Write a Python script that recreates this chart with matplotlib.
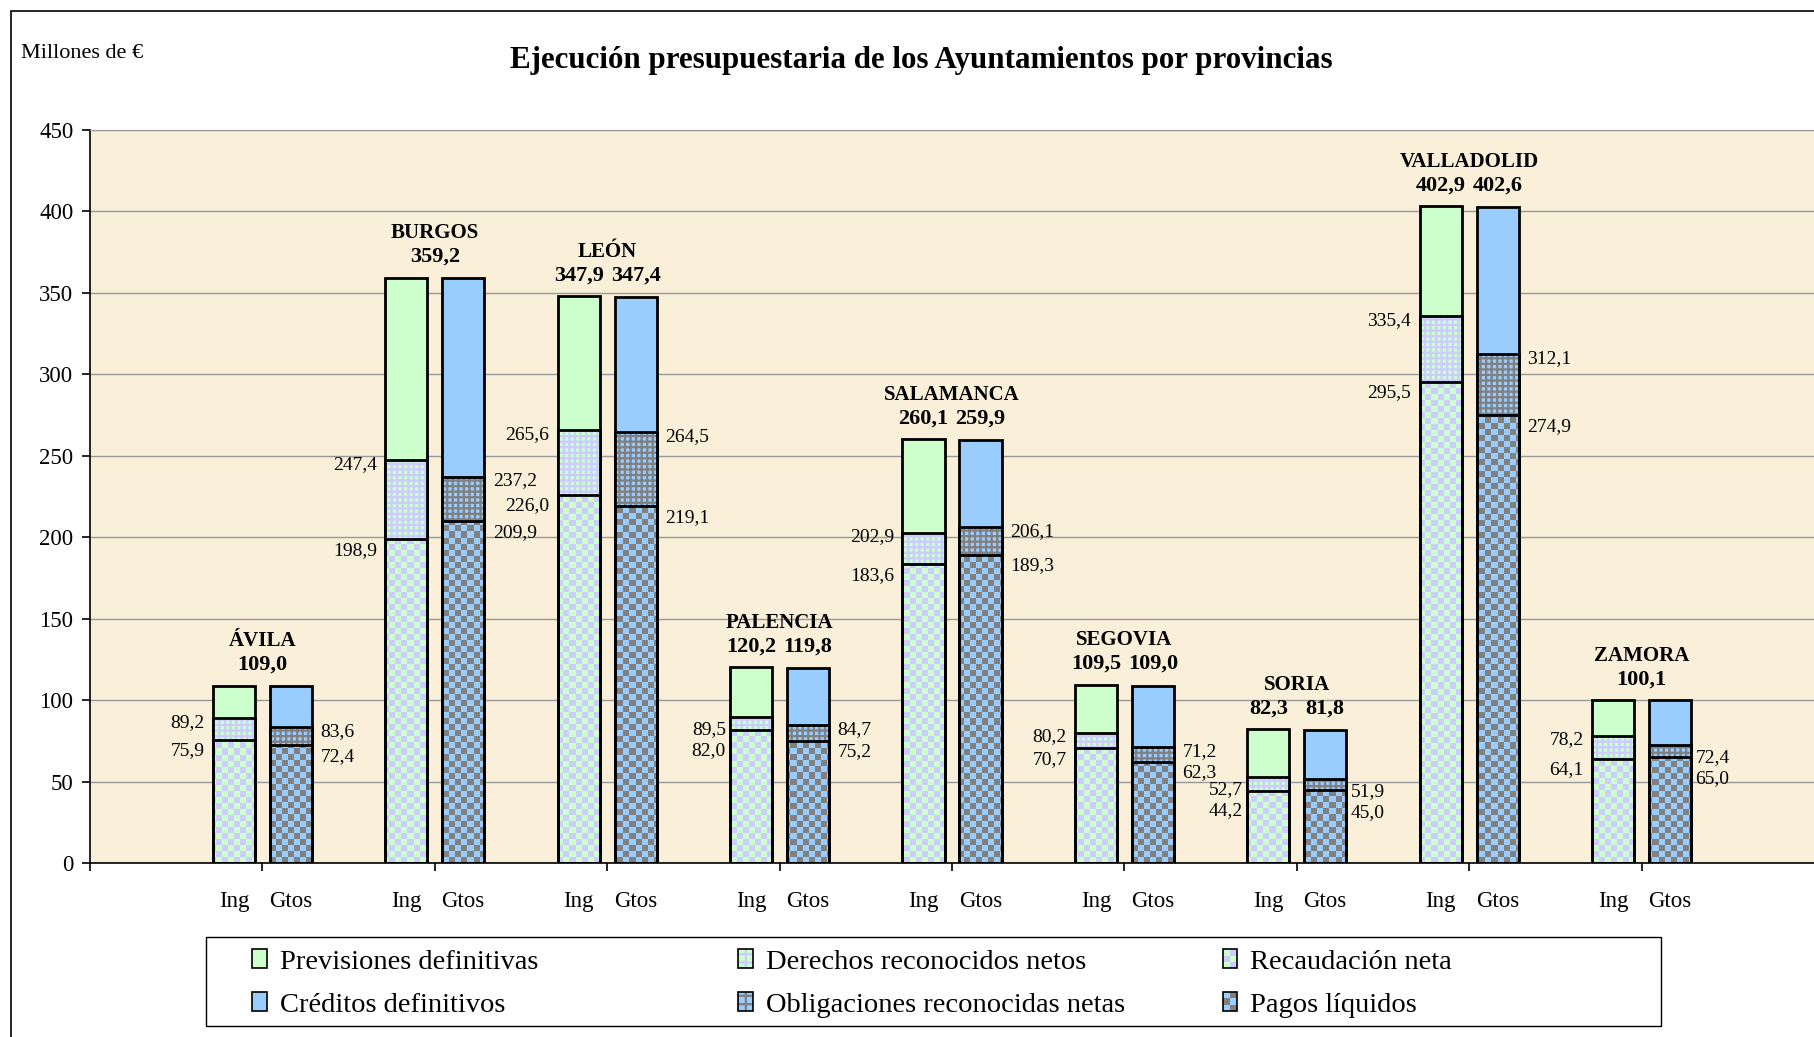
import numpy as np
import matplotlib.pyplot as plt
from matplotlib.patches import Patch, Rectangle
from matplotlib.colors import to_rgb
from matplotlib.legend_handler import HandlerBase

plt.rcParams['font.family'] = ['Liberation Serif', 'DejaVu Serif']
plt.rcParams['hatch.linewidth'] = 1.6

# datos (millones de euros)
provincias = ['ÁVILA', 'BURGOS', 'LEÓN', 'PALENCIA', 'SALAMANCA',
              'SEGOVIA', 'SORIA', 'VALLADOLID', 'ZAMORA']
previsiones = [109.0, 359.2, 347.9, 120.2, 260.1, 109.5, 82.3, 402.9, 100.1]
derechos = [89.2, 247.4, 265.6, 89.5, 202.9, 80.2, 52.7, 335.4, 78.2]
recaudacion = [75.9, 198.9, 226.0, 82.0, 183.6, 70.7, 44.2, 295.5, 64.1]
creditos = [109.0, 359.2, 347.4, 119.8, 259.9, 109.0, 81.8, 402.6, 100.1]
obligaciones = [83.6, 237.2, 264.5, 84.7, 206.1, 71.2, 51.9, 312.1, 72.4]
pagos = [72.4, 209.9, 219.1, 75.2, 189.3, 62.3, 45.0, 274.9, 65.0]

verde = '#CCFFCC'
lila = '#CCCCFF'
azul = '#99CCFF'
gris = '#808080'


def fmt(v):
    return f'{v:.1f}'.replace('.', ',')


def checker(c1, c2, nx=288, ny=122):
    mask = (np.add.outer(np.arange(ny), np.arange(nx)) % 2).astype(bool)
    return np.where(mask[..., None], np.array(to_rgb(c2)), np.array(to_rgb(c1)))


class HandlerChecker(HandlerBase):
    def __init__(self, c1, c2):
        super().__init__()
        self.c1, self.c2 = c1, c2

    def create_artists(self, legend, orig_handle, xdescent, ydescent,
                       width, height, fontsize, trans):
        arts = []
        dw, dh = width / 2, height / 3
        for i in range(2):
            for j in range(3):
                c = self.c1 if (i + j) % 2 == 0 else self.c2
                arts.append(Rectangle((-xdescent + i * dw, -ydescent + j * dh), dw, dh,
                                      facecolor=c, lw=0, transform=trans))
        arts.append(Rectangle((-xdescent, -ydescent), width, height, fill=False,
                              edgecolor='black', lw=1.2, transform=trans))
        return arts


fig = plt.figure(figsize=(18.14, 10.37), dpi=100)
ax = fig.add_axes([0.0496, 0.1674, 0.9504, 0.7076])
ax.set_facecolor('#FAF0DA')

x = np.arange(1, 10)
xi = x - 0.165
xg = x + 0.165
w = 0.245
lw_borde = 2.0


def grupo(pos, total, medio, bajo, c_fondo, c_trama):
    ax.bar(pos, total, w, color=c_fondo, edgecolor='black', lw=lw_borde, zorder=2)
    ax.bar(pos, medio, w, color=c_fondo, edgecolor=c_trama, hatch='+++', lw=0, zorder=3)
    ax.bar(pos, medio, w, fill=False, edgecolor='black', lw=lw_borde, zorder=5)
    base = ax.bar(pos, bajo, w, color=c_fondo, lw=0, zorder=3)
    img = checker(c_fondo, c_trama)
    for p in base:
        im = ax.imshow(img, extent=(0, 10, 0, 450), aspect='auto',
                       interpolation='nearest', zorder=4)
        im.set_clip_path(p)
    ax.bar(pos, bajo, w, fill=False, edgecolor='black', lw=lw_borde, zorder=5)


grupo(xi, previsiones, derechos, recaudacion, verde, lila)
grupo(xg, creditos, obligaciones, pagos, azul, gris)

ax.set_xlim(0, 10)
ax.set_ylim(0, 450)
ax.set_yticks(np.arange(0, 451, 50))
ax.yaxis.grid(True, color='#999999', lw=1)
ax.set_axisbelow(True)

ax.set_xticks(np.arange(0, 10))
ax.set_xticklabels([])
ax.set_xticks(np.concatenate([xi, xg]), ['Ing'] * 9 + ['Gtos'] * 9, minor=True)
ax.tick_params(axis='x', which='minor', length=0, pad=20, labelsize=16.5)
ax.tick_params(axis='x', which='major', length=6, width=1.2)
ax.tick_params(axis='y', length=6, width=1.2, pad=6, labelsize=16.5)
ax.spines['right'].set_visible(False)
ax.spines['top'].set_color('#999999')
ax.spines['left'].set_linewidth(1.2)
ax.spines['bottom'].set_linewidth(1.2)

# etiquetas de los tramos
esc = 0.7076 * 10.37 * 72 / 450
for i in range(9):
    for pos, med, baj, lado in [(xi[i], derechos[i], recaudacion[i], -1),
                                (xg[i], obligaciones[i], pagos[i], 1)]:
        gap = (med - baj) * esc
        if gap < 10.2:
            d_off, r_off, sep = -9, gap - 9 - 15, 3
        else:
            d_off, r_off, sep = -3, -8, 6
        ha = 'right' if lado < 0 else 'left'
        dx = lado * (w / 2)
        ax.annotate(fmt(med), (pos + dx, med), xytext=(lado * sep, d_off),
                    textcoords='offset points', ha=ha, va='center', fontsize=14)
        ax.annotate(fmt(baj), (pos + dx, baj), xytext=(lado * sep, r_off),
                    textcoords='offset points', ha=ha, va='center', fontsize=14)

    top = max(previsiones[i], creditos[i])
    if fmt(previsiones[i]) == fmt(creditos[i]):
        ax.annotate(fmt(top), (x[i], top), xytext=(0, 15), textcoords='offset points',
                    ha='center', va='center', fontsize=16, fontweight='bold')
    else:
        for pos, v in [(xi[i], previsiones[i]), (xg[i], creditos[i])]:
            ax.annotate(fmt(v), (pos, top), xytext=(0, 15), textcoords='offset points',
                        ha='center', va='center', fontsize=16, fontweight='bold')
    ax.annotate(provincias[i], (x[i], top), xytext=(0, 32), textcoords='offset points',
                ha='center', va='center', fontsize=15, fontweight='bold')

fig.text(0.508, 0.942, 'Ejecución presupuestaria de los Ayuntamientos por provincias',
         ha='center', va='center', fontsize=22.3, fontweight='bold')
fig.text(0.0116, 0.948, 'Millones de €', ha='left', va='center', fontsize=16)

# leyenda en tres columnas
h_prev = Patch(facecolor=verde, edgecolor='black', lw=1.2)
h_cred = Patch(facecolor=azul, edgecolor='black', lw=1.2)
h_der = (Patch(facecolor=verde, edgecolor=lila, hatch='++', lw=0),
         Patch(fill=False, edgecolor='black', lw=1.2))
h_obl = (Patch(facecolor=azul, edgecolor=gris, hatch='++', lw=0),
         Patch(fill=False, edgecolor='black', lw=1.2))
h_rec = Patch(facecolor=verde)
h_pag = Patch(facecolor=azul)

columnas = [
    (0.139, [h_prev, h_cred], ['Previsiones definitivas', 'Créditos definitivos']),
    (0.407, [h_der, h_obl], ['Derechos reconocidos netos', 'Obligaciones reconocidas netas']),
    (0.674, [h_rec, h_pag], ['Recaudación neta', 'Pagos líquidos']),
]
for xc, hs, ls in columnas:
    fig.legend(hs, ls, loc='center left', bbox_to_anchor=(xc, 0.0516),
               frameon=False, fontsize=20.5, handlelength=0.52, handleheight=0.62,
               handletextpad=0.45, labelspacing=0.62, borderpad=0, borderaxespad=0,
               handler_map={h_rec: HandlerChecker(verde, lila),
                            h_pag: HandlerChecker(azul, gris)})

fig.add_artist(Rectangle((0.1136, 0.0106), 0.8021, 0.0858, transform=fig.transFigure,
                         fill=False, edgecolor='black', lw=1))
fig.add_artist(Rectangle((0.0061, -0.1), 1.2, 1.0894, transform=fig.transFigure,
                         fill=False, edgecolor='black', lw=1.2, clip_on=False))

fig.savefig('out.png', dpi=100)
